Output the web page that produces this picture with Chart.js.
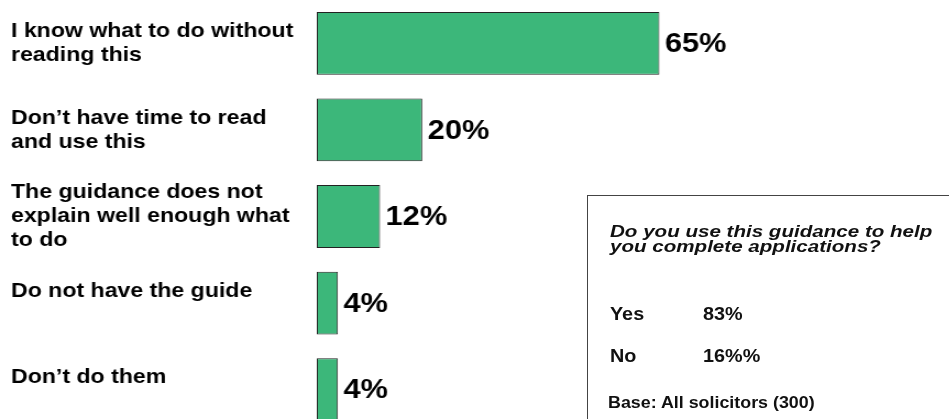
<!DOCTYPE html>
<html>
<head>
<meta charset="utf-8">
<script src="https://cdn.jsdelivr.net/npm/chart.js@4.4.1/dist/chart.umd.min.js"></script>
<style>
    html, body { margin: 0; padding: 0; overflow: hidden; background: #fff; }
    #wrap { position: relative; width: 949px; height: 419px; overflow: hidden; }
    /* the slide was drawn a little wide, so the canvas is stretched sideways */
    #reasonsChart { position: absolute; left: 0; top: 0; transform: scaleX(1.1); transform-origin: 0 0; }
    .note {
        position: absolute; left: 587px; top: 195px; width: 420px; height: 300px;
        border: 1px solid #444; box-sizing: border-box;
        font-family: "Liberation Sans", Arial, sans-serif; font-weight: bold; color: #111;
    }
    .note div { position: absolute; white-space: nowrap; transform-origin: 0 0; }
    .note .q { left: 22px; top: 28px; font-style: italic; font-size: 17px; line-height: 15px; transform: scaleX(1.21); }
    .note .cell { font-size: 18px; transform: scaleX(1.1); }
    .note .base { left: 20px; top: 197px; font-size: 17px; transform: scaleX(1.05); }
</style>
</head>
<body>
<div id="wrap">
    <canvas id="reasonsChart" width="863" height="433"></canvas>
    <div class="note">
        <div class="q">Do you use this guidance to help<br>you complete applications?</div>
        <div class="cell" style="left: 22px; top: 108px;">Yes</div>
        <div class="cell" style="left: 115px; top: 108px;">83%</div>
        <div class="cell" style="left: 22px; top: 150px;">No</div>
        <div class="cell" style="left: 115px; top: 150px;">16%%</div>
        <div class="base">Base: All solicitors (300)</div>
    </div>
</div>
<script>
// Reasons for not using the guidance (% of respondents)
const reasonLabels = [
    ['I know what to do without', 'reading this'],
    ['Don\u2019t have time to read', 'and use this'],
    ['The guidance does not', 'explain well enough what', 'to do'],
    ['Do not have the guide', ''],
    ['Don\u2019t do them', '']
];
const reasonValues = [65, 20, 12, 4, 4];

// Draws the "65%" style value next to each bar end
const valueLabels = {
    id: 'valueLabels',
    afterDatasetsDraw(chart) {
        const ctx = chart.ctx;
        const meta = chart.getDatasetMeta(0);
        ctx.save();
        ctx.font = 'bold 28px "Liberation Sans", Arial, sans-serif';
        ctx.fillStyle = '#000';
        ctx.textAlign = 'left';
        ctx.textBaseline = 'middle';
        meta.data.forEach((bar, i) => {
            ctx.fillText(reasonValues[i] + '%', bar.x + 5, bar.y + 1);
        });
        ctx.restore();
    }
};

new Chart(document.getElementById('reasonsChart'), {
    type: 'bar',
    data: {
        labels: reasonLabels,
        datasets: [{
            data: reasonValues,
            backgroundColor: '#3cb77a',
            borderColor: '#222',
            borderWidth: 1,
            borderSkipped: false,
            categoryPercentage: 1,
            barPercentage: 0.725
        }]
    },
    options: {
        indexAxis: 'y',
        responsive: false,
        animation: false,
        layout: { padding: { left: 10, top: 0, right: 0, bottom: 0 } },
        plugins: {
            legend: { display: false },
            tooltip: { enabled: false }
        },
        scales: {
            x: { display: false, min: 0, max: 120 },
            y: {
                grid: { display: false },
                border: { display: false },
                afterFit(scale) {
                    // fixed label column; no extra room for the tall first/last labels
                    scale.width = 278;
                    scale.paddingTop = 0;
                    scale.paddingBottom = 0;
                },
                ticks: {
                    crossAlign: 'far',
                    color: '#000',
                    font: { family: '"Liberation Sans", Arial, sans-serif', size: 21, weight: 'bold', lineHeight: '24px' }
                }
            }
        }
    },
    plugins: [valueLabels]
});
</script>
</body>
</html>
